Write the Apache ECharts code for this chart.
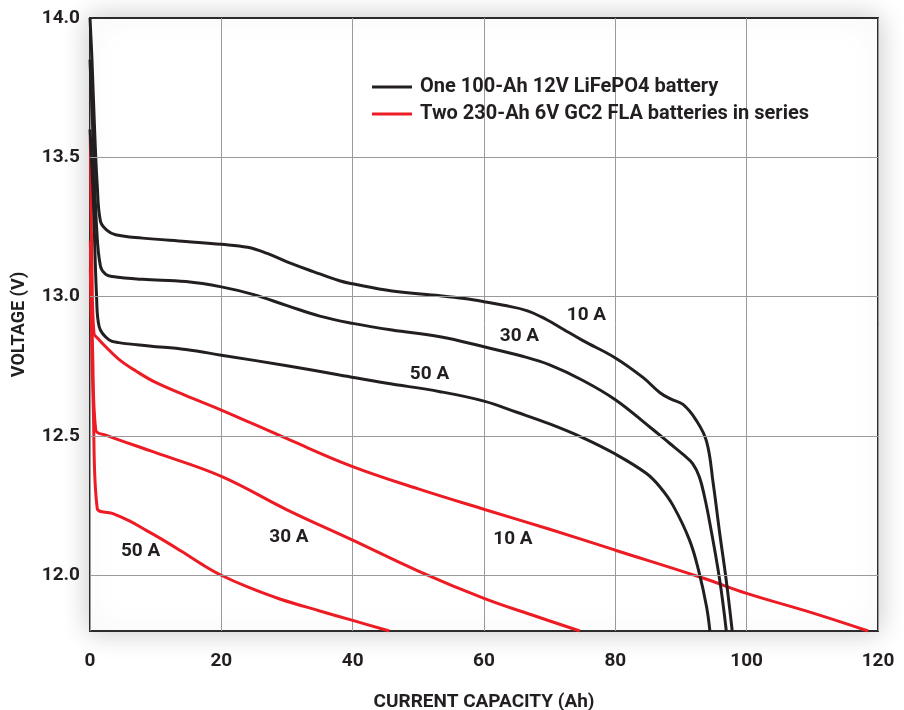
<!DOCTYPE html>
<html>
<head>
<meta charset="utf-8">
<script src="https://cdn.jsdelivr.net/npm/echarts@6/dist/echarts.min.js"></script>
<style>
html,body{margin:0;padding:0;background:#fff;}
#chart{width:904px;height:710px;}
</style>
</head>
<body>
<div id="chart"></div>
<script>
// Data: [capacity (Ah), voltage (V)]
const li10 = [[0,14.0],[0.3,13.85],[0.7,13.6],[1.1,13.4],[1.6,13.27],[2.5,13.24],[3.9,13.222],[8,13.21],[14.6,13.198],[20,13.188],[24,13.177],[27,13.155],[30,13.125],[34,13.09],[38,13.057],[40,13.046],[46,13.02],[53.3,13.003],[57,12.993],[60,12.982],[63,12.969],[66.5,12.95],[69.5,12.918],[72,12.884],[75,12.843],[80,12.78],[84.2,12.71],[86.8,12.655],[88.5,12.632],[90.3,12.613],[92.3,12.557],[93.9,12.48],[94.9,12.33],[95.9,12.15],[96.9,11.98],[97.8,11.8]];
const li30 = [[0,13.85],[0.5,13.55],[1,13.25],[1.6,13.108],[2.4,13.08],[3.4,13.072],[8,13.062],[14.6,13.054],[20,13.035],[24.8,13.008],[30,12.968],[35,12.93],[40,12.904],[46,12.88],[53.3,12.856],[60,12.82],[66,12.785],[70,12.755],[75,12.70],[80,12.63],[85.2,12.533],[88.3,12.473],[90.5,12.43],[91.8,12.40],[92.8,12.353],[93.6,12.28],[94.4,12.186],[95.9,11.982],[96.9,11.8]];
const li50 = [[0,13.6],[0.5,13.35],[1,13.0],[1.4,12.892],[2.9,12.845],[4.4,12.835],[9,12.823],[14.6,12.81],[20,12.79],[30,12.752],[38,12.719],[45,12.69],[53.3,12.659],[60,12.625],[65,12.585],[70,12.543],[75,12.494],[80,12.435],[84.7,12.366],[86.8,12.317],[88.8,12.25],[91.3,12.126],[92.8,12.006],[93.9,11.886],[94.4,11.8]];
const fla10 = [[0.05,13.57],[0.3,13.1],[0.6,12.868],[1.2,12.85],[2.4,12.82],[4.4,12.775],[7,12.733],[10,12.692],[14.6,12.645],[20,12.593],[30,12.49],[40,12.39],[50,12.31],[60.1,12.236],[70,12.165],[80,12.09],[93.1,11.992],[100,11.935],[110,11.865],[118.5,11.8]];
const fla30 = [[0.05,13.2],[0.4,12.8],[0.87,12.521],[2.4,12.503],[10,12.44],[20,12.355],[30,12.235],[40,12.126],[50,12.015],[60,11.917],[67,11.86],[74.6,11.8]];
const fla50 = [[0.05,13.1],[0.5,12.6],[1.1,12.24],[3.4,12.222],[6,12.195],[8.5,12.162],[11.6,12.12],[14,12.085],[17,12.04],[20,12.0],[24,11.958],[28.9,11.915],[35,11.872],[40,11.838],[45.6,11.8]];

const seriesNames = ['One 100-Ah 12V LiFePO4 battery', 'Two 230-Ah 6V GC2 FLA batteries in series'];
const curveLabels = ['10 A', '30 A', '50 A'];
// label anchor positions in data units [Ah, V]
const liLabelPos = [[75.6,12.934],[65.4,12.859],[51.7,12.72]];
const flaLabelPos = [[64.4,12.13],[30.3,12.137],[7.7,12.087]];

const xTicks = [0,20,40,60,80,100,120];
const yTicks = [12.0,12.5,13.0,13.5,14.0];

const BLACK = '#231f20';
const RED = '#ed1c24';
const FONT = 'Roboto';

function mkSeries(name, data, color, labelText, labelPos) {
  return {
    name: name,
    type: 'line',
    data: data,
    showSymbol: false,
    symbol: 'none',
    smooth: 0.4,
    lineStyle: { color: color, width: 3 },
    itemStyle: { color: color },
    z: color === RED ? 3 : 4,
    markPoint: {
      symbol: 'circle',
      symbolSize: 1,
      itemStyle: { color: 'rgba(0,0,0,0)' },
      silent: true,
      label: {
        show: true,
        position: 'inside',
        formatter: labelText,
        color: BLACK,
        fontFamily: FONT,
        fontWeight: 'bold',
        fontSize: 19
      },
      data: [{ coord: labelPos }]
    }
  };
}

const chart = echarts.init(document.getElementById('chart'));
chart.setOption({
  backgroundColor: '#fff',
  animation: false,
  grid: {
    left: 90, right: 26, top: 18, bottom: 79,
    containLabel: false,
    outerBoundsMode: 'none',
    show: true,
    backgroundColor: '#fff',
    borderColor: '#2b2b2b',
    borderWidth: 2,
    shadowBlur: 26,
    shadowColor: 'rgba(0,0,0,0.22)'
  },
  legend: {
    data: seriesNames,
    orient: 'vertical',
    left: 367,
    top: 72,
    itemGap: 7,
    itemWidth: 40,
    itemHeight: 3,
    icon: 'rect',
    textStyle: { color: BLACK, fontFamily: FONT, fontWeight: 'bold', fontSize: 20, lineHeight: 20, padding: [0, 0, 0, 3] }
  },
  xAxis: {
    type: 'value',
    min: 0, max: 120, interval: 20,
    name: 'CURRENT CAPACITY (Ah)',
    nameLocation: 'middle',
    nameGap: 62,
    nameTextStyle: { color: BLACK, fontFamily: FONT, fontWeight: 'bold', fontSize: 19 },
    axisLine: { show: false },
    axisTick: { show: false },
    axisLabel: { color: BLACK, fontFamily: FONT, fontWeight: 'bold', fontSize: 19, margin: 21,
      formatter: v => xTicks.includes(v) ? String(v) : '' },
    splitLine: { show: true, lineStyle: { color: '#9a9a9a', width: 1 } }
  },
  yAxis: {
    type: 'value',
    min: 11.8, max: 14.0,
    name: 'VOLTAGE (V)',
    nameLocation: 'middle',
    nameGap: 62,
    nameTextStyle: { color: BLACK, fontFamily: FONT, fontWeight: 'bold', fontSize: 18 },
    axisLine: { show: false },
    axisTick: { show: false, customValues: yTicks },
    axisLabel: { color: BLACK, fontFamily: FONT, fontWeight: 'bold', fontSize: 19, margin: 10,
      customValues: yTicks,
      formatter: v => Number(v).toFixed(1) },
    splitLine: { show: false }
  },
  series: [
    {
      type: 'line',
      data: [],
      z: 1,
      silent: true,
      markLine: {
        silent: true,
        symbol: 'none',
        label: { show: false },
        lineStyle: { color: '#9a9a9a', width: 1, type: 'solid' },
        data: yTicks.filter(v => v < 14).map(v => ({ yAxis: v }))
      }
    },
    mkSeries(seriesNames[1], fla10, RED, curveLabels[0], flaLabelPos[0]),
    mkSeries(seriesNames[1], fla30, RED, curveLabels[1], flaLabelPos[1]),
    mkSeries(seriesNames[1], fla50, RED, curveLabels[2], flaLabelPos[2]),
    mkSeries(seriesNames[0], li10, BLACK, curveLabels[0], liLabelPos[0]),
    mkSeries(seriesNames[0], li30, BLACK, curveLabels[1], liLabelPos[1]),
    mkSeries(seriesNames[0], li50, BLACK, curveLabels[2], liLabelPos[2])
  ]
});
</script>
</body>
</html>
